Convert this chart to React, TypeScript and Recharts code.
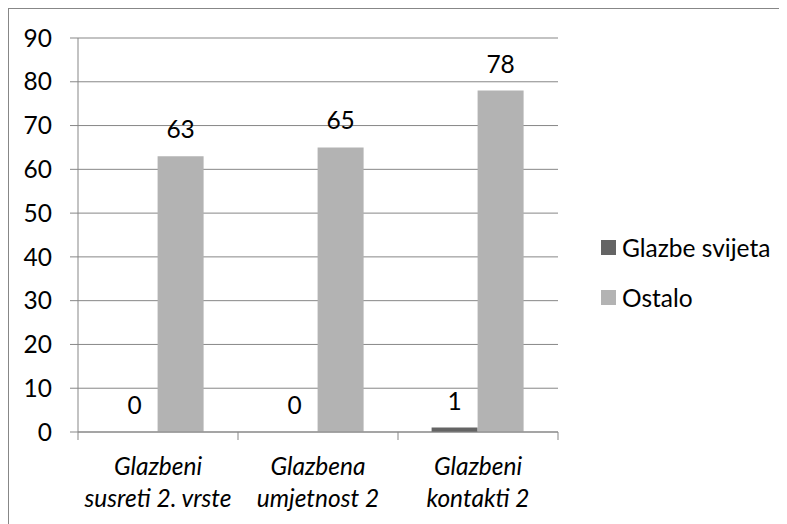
import React from 'react';
import { BarChart, Bar, XAxis, YAxis, CartesianGrid, LabelList } from 'recharts';

const categories = ['Glazbeni susreti 2. vrste', 'Glazbena umjetnost 2', 'Glazbeni kontakti 2'];
const categoryLines = [
  ['Glazbeni', 'susreti 2. vrste'],
  ['Glazbena', 'umjetnost 2'],
  ['Glazbeni', 'kontakti 2'],
];
const glazbeSvijeta = [0, 0, 1];
const ostalo = [63, 65, 78];
const yTicks = [0, 10, 20, 30, 40, 50, 60, 70, 80, 90];

const seriesNames = ['Glazbe svijeta', 'Ostalo'];
const seriesColors = ['#646464', '#b3b3b3'];

const data = categories.map((name, i) => ({
  name,
  glazbe: glazbeSvijeta[i],
  ostalo: ostalo[i],
}));

const FONT = 'Lato, "Open Sans", sans-serif';
const FS = 24.5;
const GRID = '#878787';
const CHART_W = 777;
const CHART_H = 514;
const MARGIN = { top: 29, right: 228, left: 0, bottom: 0 };
const Y_WIDTH = 69;
const PLOT_W = CHART_W - MARGIN.left - MARGIN.right - Y_WIDTH;
const BAND = PLOT_W / categories.length;

const CategoryTick = (props: any) => {
  const { x, y, index } = props;
  const lines = categoryLines[index] || [];
  return (
    <g>
      <line x1={x - BAND / 2} y1={y} x2={x - BAND / 2} y2={y + 8} stroke={GRID} />
      {index === categories.length - 1 && (
        <line x1={x + BAND / 2} y1={y} x2={x + BAND / 2} y2={y + 8} stroke={GRID} />
      )}
      {lines.map((l, i) => (
        <text
          key={i}
          x={x}
          y={y + 43 + i * 32}
          textAnchor="middle"
          fontStyle="italic"
          fontSize={FS}
          fontFamily={FONT}
          fill="#000"
        >
          {l}
        </text>
      ))}
    </g>
  );
};

const LegendBox = () => (
  <div
    style={{
      position: 'absolute',
      left: 592,
      top: 213,
      fontFamily: FONT,
      fontSize: FS,
      color: '#000',
    }}
  >
    {seriesNames.map((n, i) => (
      <div key={n} style={{ display: 'flex', alignItems: 'center', height: 50 }}>
        <span
          style={{
            display: 'inline-block',
            width: 15,
            height: 15,
            background: seriesColors[i],
            marginRight: 6,
          }}
        />
        <span>{n}</span>
      </div>
    ))}
  </div>
);

export default function App() {
  return (
    <div
      style={{
        width: 779,
        height: 516,
        borderLeft: `1px solid ${GRID}`,
        borderTop: `1px solid ${GRID}`,
        boxSizing: 'border-box',
        position: 'relative',
        background: '#fff',
      }}
    >
      <BarChart
        width={CHART_W}
        height={CHART_H}
        data={data}
        margin={MARGIN}
        barCategoryGap="21%"
        barGap={0}
      >
        <CartesianGrid horizontal vertical={false} stroke={GRID} />
        <XAxis
          dataKey="name"
          axisLine={{ stroke: GRID }}
          tickLine={false}
          tickSize={0}
          tickMargin={0}
          height={91}
          interval={0}
          tick={<CategoryTick />}
        />
        <YAxis
          width={Y_WIDTH}
          domain={[0, 90]}
          ticks={yTicks}
          interval={0}
          axisLine={{ stroke: GRID }}
          tickLine={{ stroke: GRID }}
          tickSize={8}
          tickMargin={18}
          tick={{ fill: '#000', fontSize: FS, fontFamily: FONT }}
        />
        <Bar
          dataKey="glazbe"
          name={seriesNames[0]}
          fill={seriesColors[0]}
          minPointSize={0.01}
          isAnimationActive={false}
        >
          <LabelList dataKey="glazbe" position="top" offset={18} fill="#000" fontSize={FS} fontFamily={FONT} />
        </Bar>
        <Bar dataKey="ostalo" name={seriesNames[1]} fill={seriesColors[1]} isAnimationActive={false}>
          <LabelList dataKey="ostalo" position="top" offset={18} fill="#000" fontSize={FS} fontFamily={FONT} />
        </Bar>
      </BarChart>
      <LegendBox />
    </div>
  );
}
